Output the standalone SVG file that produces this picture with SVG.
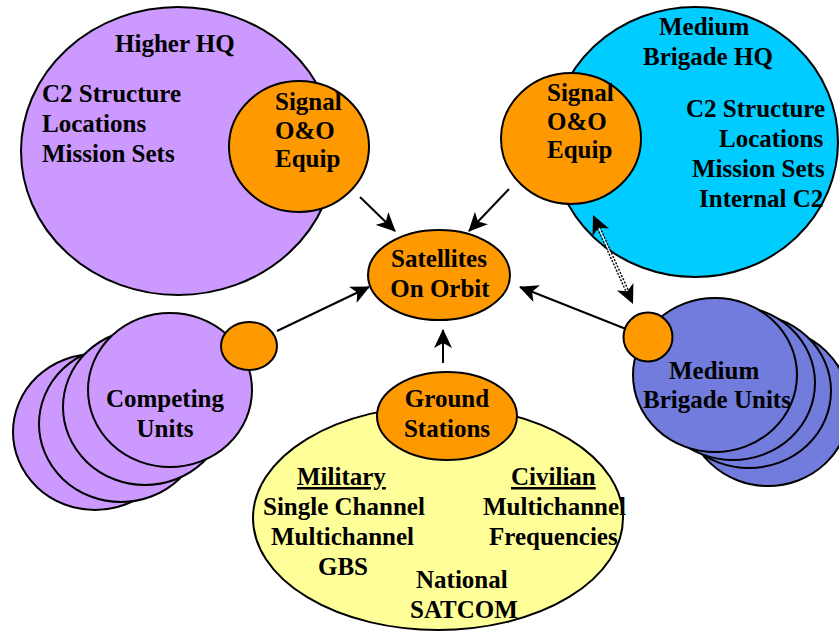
<svg xmlns="http://www.w3.org/2000/svg" width="839" height="631" viewBox="0 0 839 631" font-family="'Liberation Serif', 'DejaVu Serif', serif">
<defs>
<style>
.o{fill:#FF9900;stroke:#000;stroke-width:2}
.p{fill:#CC99FF;stroke:#000;stroke-width:2}
.c{fill:#00CCFF;stroke:#000;stroke-width:2}
.b{fill:#717CDC;stroke:#000;stroke-width:2}
.y{fill:#FFFF99;stroke:#000;stroke-width:2}
text{font-family:'Liberation Serif','DejaVu Serif',serif;font-weight:bold;font-size:25px;fill:#000}
.m{text-anchor:middle}
.u{text-decoration:underline}
.a{stroke:#000;stroke-width:2;fill:none;marker-end:url(#ah)}
</style>
<marker id="ah" markerUnits="userSpaceOnUse" markerWidth="20" markerHeight="18" viewBox="0 0 20 18" refX="18" refY="9" orient="auto">
<path d="M0,0 L19,9 L0,18 L5,9 z" fill="#000"/>
</marker>
</defs>

<g id="higher-hq">
<ellipse class="p" cx="178" cy="151" rx="157" ry="144"/>
<text x="115" y="52">Higher HQ</text>
<text x="42" y="102">C2 Structure</text>
<text x="42" y="132">Locations</text>
<text x="42" y="162">Mission Sets</text>
</g>
<g id="higher-signal">
<ellipse class="o" cx="299" cy="146.5" rx="70" ry="65.5"/>
<text x="275" y="110">Signal</text>
<text x="275" y="139">O&amp;O</text>
<text x="275" y="167">Equip</text>
</g>

<g id="medium-hq">
<ellipse class="c" cx="695" cy="142" rx="143" ry="135"/>
<text x="659" y="35">Medium</text>
<text x="643" y="65">Brigade HQ</text>
<text x="686" y="117">C2 Structure</text>
<text x="719" y="147">Locations</text>
<text x="692" y="177">Mission Sets</text>
<text x="699" y="207">Internal C2</text>
</g>
<g id="medium-signal">
<ellipse class="o" cx="571" cy="138.5" rx="70" ry="65.5"/>
<text x="547" y="101">Signal</text>
<text x="547" y="130">O&amp;O</text>
<text x="547" y="158">Equip</text>
</g>

<g id="satellites">
<ellipse class="o" cx="439" cy="275" rx="71" ry="45"/>
<text class="m" x="439" y="267">Satellites</text>
<text class="m" x="440" y="297">On Orbit</text>
</g>

<g id="competing-units">
<ellipse class="p" cx="95" cy="432" rx="82" ry="78"/>
<ellipse class="p" cx="121" cy="424" rx="82" ry="78"/>
<ellipse class="p" cx="145" cy="407" rx="82" ry="78"/>
<ellipse class="p" cx="170" cy="390" rx="82" ry="77"/>
<ellipse class="o" cx="249" cy="346" rx="28" ry="24"/>
<text class="m" x="165" y="407">Competing</text>
<text class="m" x="165" y="437">Units</text>
</g>

<g id="medium-units">
<ellipse class="b" cx="768" cy="407" rx="82" ry="79"/>
<ellipse class="b" cx="749" cy="391" rx="82" ry="77"/>
<ellipse class="b" cx="733" cy="383" rx="82" ry="77"/>
<ellipse class="b" cx="715" cy="375" rx="82" ry="77"/>
<ellipse class="o" cx="648" cy="337" rx="24.5" ry="24.5"/>
<text x="669" y="379">Medium</text>
<text x="643" y="408">Brigade Units</text>
</g>

<g id="ground">
<ellipse class="y" cx="438" cy="518" rx="185" ry="112"/>
<ellipse class="o" cx="447" cy="416" rx="70" ry="44"/>
<text class="m" x="447" y="407">Ground</text>
<text class="m" x="447" y="437">Stations</text>
<text class="u" x="297" y="485">Military</text>
<text x="263" y="515">Single Channel</text>
<text x="271" y="545">Multichannel</text>
<text x="318" y="575">GBS</text>
<text class="u" x="511" y="485">Civilian</text>
<text x="483" y="515">Multichannel</text>
<text x="489" y="545">Frequencies</text>
<text x="416" y="588">National</text>
<text x="410" y="618">SATCOM</text>
</g>

<g id="connectors">
<line class="a" x1="360" y1="197" x2="395" y2="231"/>
<line class="a" x1="509" y1="189" x2="469" y2="231"/>
<line class="a" x1="277" y1="331" x2="369" y2="287"/>
<line class="a" x1="626" y1="329" x2="520" y2="287"/>
<line class="a" x1="443" y1="363" x2="443" y2="330"/>
<line x1="598.7" y1="227.8" x2="627.3" y2="291.2" stroke="#000" stroke-width="4" stroke-dasharray="2 1.5"/>
<line x1="598.7" y1="227.8" x2="627.3" y2="291.2" stroke="#fff" stroke-width="1.2"/>
<path d="M593,215 L609,228.6 L598.7,227.8 L592.6,236 z" fill="#000"/>
<path d="M633,304 L617,290.4 L627.3,291.2 L633.4,283 z" fill="#000"/>
</g>
</svg>
